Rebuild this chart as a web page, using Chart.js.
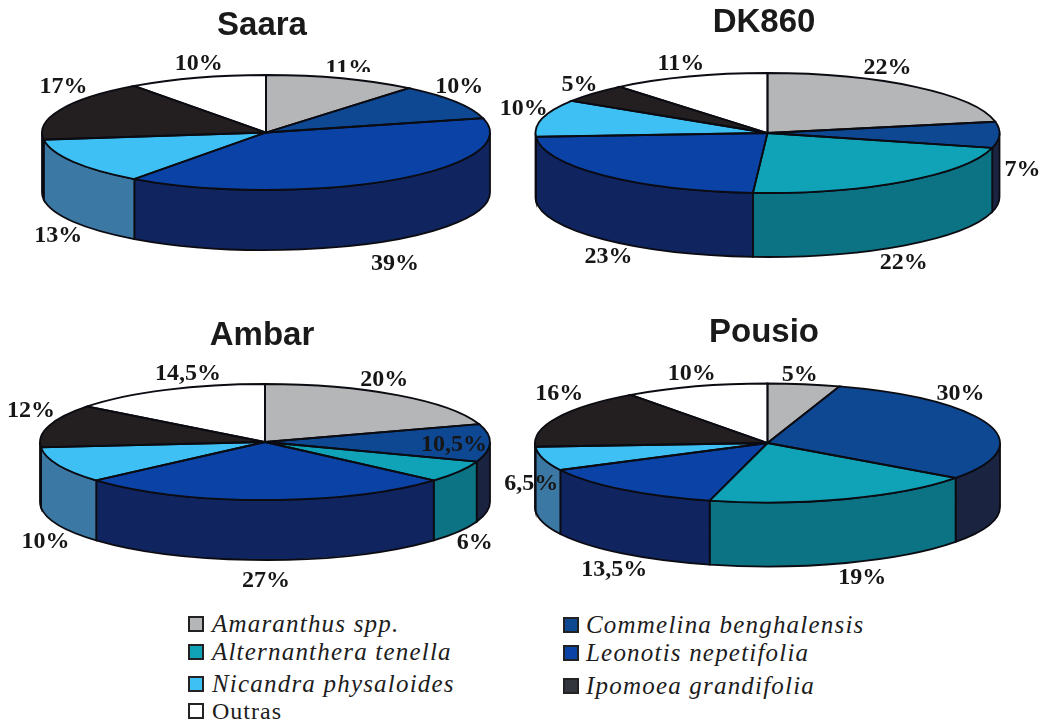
<!DOCTYPE html>
<html>
<head>
<meta charset="utf-8">
<script src="https://cdn.jsdelivr.net/npm/chart.js@4"></script>
<style>
    html, body { margin: 0; padding: 0; background: #fff; }
    body { position: relative; width: 1051px; height: 721px; overflow: hidden; }
    canvas { position: absolute; }
    .key { position: absolute; font: italic 25px "Liberation Serif", serif; letter-spacing: 1.2px; color: #1c1c1c; white-space: nowrap; line-height: 26px; }
    .key.plain { font-style: normal; font-size: 24px; letter-spacing: 1px; }
    .swatch { position: absolute; width: 12px; height: 12px; border: 2px solid #222; }
</style>
</head>
<body>
<canvas id="saara" width="524" height="300" style="left:0;top:0"></canvas>
<canvas id="dk860" width="570" height="300" style="left:479px;top:0"></canvas>
<canvas id="ambar" width="524" height="300" style="left:0;top:310px"></canvas>
<canvas id="pousio" width="570" height="300" style="left:479px;top:310px"></canvas>
<script>
const species = ['Amaranthus spp.', 'Commelina benghalensis', 'Alternanthera tenella', 'Leonotis nepetifolia', 'Nicandra physaloides', 'Ipomoea grandifolia', 'Outras'];
const saaraValues = [11, 10, 0, 39, 13, 17, 10];
const dk860Values = [22, 7, 22, 23, 10, 5, 11];
const ambarValues = [20, 10.5, 6, 27, 10, 12, 14.5];
const pousioValues = [5, 30, 19, 13.5, 6.5, 16, 10];

const topColors = ['#b4b6b8', '#0e4792', '#10a3b8', '#0a42a6', '#3fc0f4', '#231e1f', '#ffffff'];
const wallColors = ['#8a8c8e', '#1a2440', '#0c7385', '#10245f', '#3c78a4', '#1a1718', '#dddddd'];

// label shift from the slice's rim point, third item cuts the label off at that y
const saaraNudge = [[6, -11, 72], [3, -16], [0, 0], [2, 82], [-16, 73], [2, -24], [1, -16]];
const dk860Nudge = [[-29, -20], [22, 33], [-1, 80], [4, 80], [-20, -11], [-15, -10], [-9, -14]];
const ambarNudge = [[-14, -17], [-37, 0], [15, 70], [0, 79], [-14, 75], [-19, -17], [21, -18]];
const pousioNudge = [[-5, -11], [-29, -32], [15, 77], [-9, 79], [-13, 24], [1, -25], [-5, -14]];

function pie3d(id, title, values, nudge, shape) {
    const plugin = {
        id: 'pie3d',
        beforeDatasetsDraw(chart) {
            const ctx = chart.ctx;
            const arcs = chart.getDatasetMeta(0).data;
            ctx.lineWidth = 1.8;
            ctx.strokeStyle = '#0b0b12';
            arcs.forEach((arc, i) => {
                const s = Math.max(arc.startAngle, 0);
                const e = Math.min(arc.endAngle, Math.PI);
                if (e <= s) return;
                ctx.beginPath();
                ctx.ellipse(shape.x, shape.y, shape.rx, shape.ry, 0, s, e, false);
                ctx.ellipse(shape.x, shape.y + shape.depth, shape.rx, shape.ry, 0, e, s, true);
                ctx.closePath();
                ctx.fillStyle = wallColors[i];
                ctx.fill();
                ctx.stroke();
            });
            // squash the library's round pie onto the tilted top face
            const R = arcs[0].outerRadius;
            ctx.save();
            ctx.translate(shape.x, shape.y);
            ctx.scale(shape.rx / R, shape.ry / R);
            ctx.translate(-arcs[0].x, -arcs[0].y);
        },
        afterDatasetsDraw(chart) {
            const ctx = chart.ctx;
            ctx.restore();
            const arcs = chart.getDatasetMeta(0).data;
            ctx.lineWidth = 1.8;
            ctx.strokeStyle = '#0b0b12';
            arcs.forEach(arc => {
                if (arc.endAngle - arc.startAngle <= 0) return;
                ctx.beginPath();
                ctx.moveTo(shape.x, shape.y);
                ctx.ellipse(shape.x, shape.y, shape.rx, shape.ry, 0, arc.startAngle, arc.endAngle, false);
                ctx.closePath();
                ctx.stroke();
            });
            ctx.font = 'bold 24px "Liberation Serif", serif';
            ctx.fillStyle = '#161616';
            ctx.textAlign = 'center';
            ctx.textBaseline = 'middle';
            arcs.forEach((arc, i) => {
                if (!values[i]) return;
                const mid = (arc.startAngle + arc.endAngle) / 2;
                const lx = shape.x + shape.rx * Math.cos(mid) + nudge[i][0] + 1;
                const ly = shape.y + shape.ry * Math.sin(mid) + nudge[i][1] + 1.5;
                ctx.save();
                if (nudge[i][2]) {
                    ctx.beginPath();
                    ctx.rect(0, 0, chart.width, nudge[i][2]);
                    ctx.clip();
                }
                ctx.fillText(String(values[i]).replace('.', ',') + '%', lx, ly);
                ctx.restore();
            });
        }
    };
    return new Chart(document.getElementById(id), {
        type: 'pie',
        data: {
            labels: species,
            datasets: [{ data: values, backgroundColor: topColors, borderWidth: 0, clip: false }]
        },
        options: {
            responsive: false,
            animation: false,
            events: [],
            plugins: {
                legend: { display: false },
                tooltip: { enabled: false },
                title: {
                    display: true,
                    text: title,
                    color: '#1a1a1a',
                    font: { family: '"Liberation Sans", Arial, sans-serif', size: 33, weight: 'bold' },
                    padding: { top: shape.titleTop, bottom: 6 }
                }
            }
        },
        plugins: [plugin]
    });
}

pie3d('saara', 'Saara', saaraValues, saaraNudge, { x: 266, y: 132.5, rx: 224, ry: 57.5, depth: 60, titleTop: 6 });
pie3d('dk860', 'DK860', dk860Values, dk860Nudge, { x: 288.5, y: 133, rx: 232, ry: 60, depth: 64, titleTop: 3 });
pie3d('ambar', 'Ambar', ambarValues, ambarNudge, { x: 265, y: 132, rx: 225, ry: 58, depth: 60, titleTop: 6 });
pie3d('pousio', 'Pousio', pousioValues, pousioNudge, { x: 288.5, y: 133, rx: 232.5, ry: 59.5, depth: 64, titleTop: 3 });

// legend, two columns like the original
const legendOrder = [0, 2, 4, 6, 1, 3, 5];
const legendRows = [624, 652, 684, 711, 625, 653, 686];
legendOrder.forEach((s, i) => {
    const second = i > 3;
    const box = document.createElement('div');
    box.className = 'swatch';
    box.style.left = (second ? 563 : 188) + 'px';
    box.style.top = (legendRows[i] - 8) + 'px';
    box.style.background = s === 6 ? '#fff' : (s === 5 ? '#33363c' : topColors[s]);
    document.body.appendChild(box);
    const key = document.createElement('div');
    key.className = s === 6 ? 'key plain' : 'key';
    key.style.left = (second ? 586 : 212) + 'px';
    key.style.top = (legendRows[i] - 13) + 'px';
    key.textContent = species[s];
    document.body.appendChild(key);
});
</script>
</body>
</html>
